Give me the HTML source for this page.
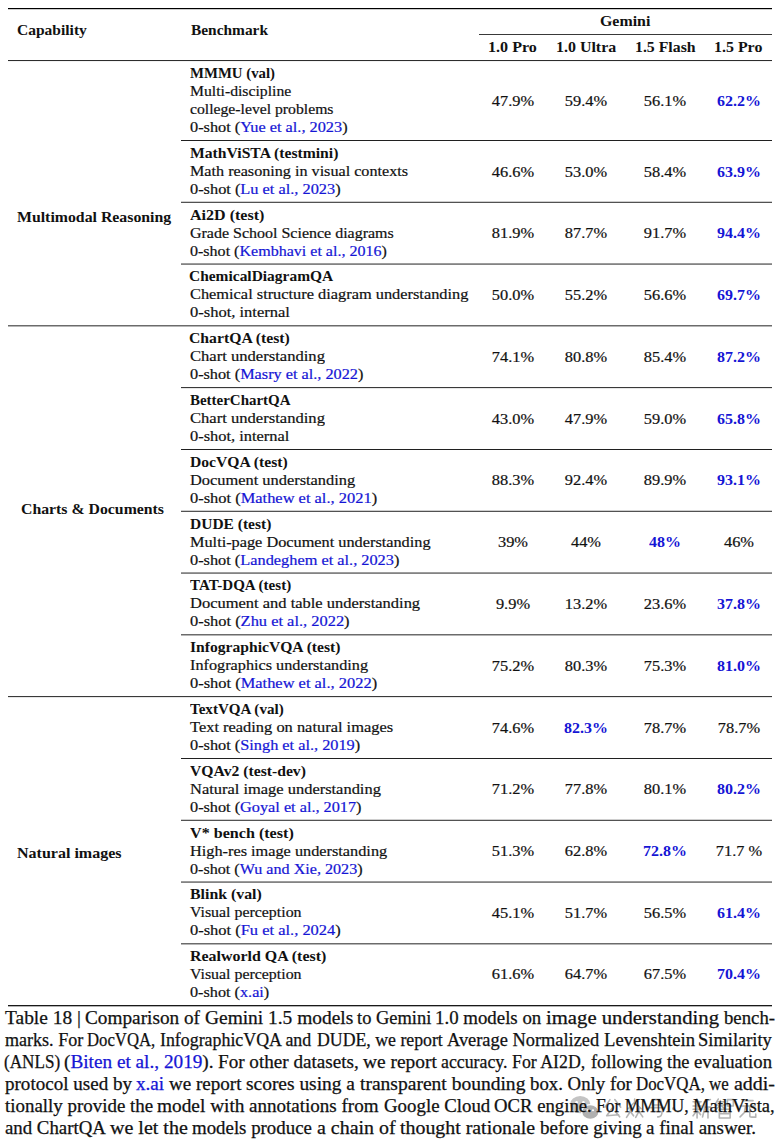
<!DOCTYPE html>
<html><head><meta charset="utf-8"><style>
html,body{margin:0;padding:0;background:#fff;}
body{width:781px;height:1140px;position:relative;overflow:hidden;font-family:"Liberation Serif",serif;color:#111;}
.t{position:absolute;white-space:nowrap;line-height:18.0px;transform-origin:0 0;-webkit-text-stroke:0.2px currentColor;}
.t[style*=bold]{-webkit-text-stroke:0;}
.t.c{width:400px;text-align:center;transform-origin:50% 0;}
.r{position:absolute;height:1px;}
.b{color:#1515d5;}
.cl{-webkit-text-stroke:0.25px currentColor;position:absolute;left:4.3px;transform-origin:0 0;font-size:18.0px;line-height:22px;white-space:nowrap;text-align:justify;text-align-last:justify;}
.cl.last{text-align-last:left;}
.cw{position:absolute;font-size:18.0px;line-height:22px;white-space:nowrap;transform-origin:0 0;-webkit-text-stroke:0.25px currentColor;}
</style></head><body>
<svg style="position:absolute;left:0;top:0" width="781" height="1140" viewBox="0 0 781 1140">
<g>
<ellipse cx="580.2" cy="1104.6" rx="10.2" ry="8.6" fill="#c4c4c4"/>
<circle cx="576.6" cy="1102.2" r="1.3" fill="#fff"/><circle cx="583.4" cy="1102.2" r="1.3" fill="#fff"/>
<ellipse cx="590.3" cy="1112.0" rx="8.6" ry="7.3" fill="#b0b0b0" stroke="#fff" stroke-width="1.2"/>
<circle cx="587.4" cy="1110.3" r="1.0" fill="#fff"/><circle cx="593.0" cy="1110.3" r="1.0" fill="#fff"/>
</g>
<g fill="none" stroke="#b4b4b4" stroke-width="1.5" stroke-linecap="round" stroke-linejoin="round">
<g transform="translate(604,1098.5) scale(1.08)"><path d="M5.5,1 L1,8 M10,1 L15.5,8 M7.5,9 L2.5,16 L13.5,15 M10.5,12 L14.5,17"/></g>
<g transform="translate(626,1098.5) scale(1.08)"><path d="M8,0.5 L8,3.5 L2,9.5 M8,3.5 L14,9.5 M4,9 L4,12 L0.5,17.5 M4,12 L7,16 M12,9 L12,12 L9,17.5 M12,12 L15.5,17"/></g>
<g transform="translate(648,1098.5) scale(1.08)"><path d="M4,1 H12 V6 H4 Z M1,8.5 H15 M5.5,8.5 L4.5,12 H13 Q13,17.5 9,17"/></g>
<g transform="translate(672,1107)"><circle cx="1.5" cy="1.5" r="0.8"/></g>
<g transform="translate(692,1098.5) scale(1.08)"><path d="M4.5,0.5 L5.2,2 M1,3 H8.5 M3,4 L4,6 M7,4 L6,6 M1,7 H8.5 M1,10 H8.5 M4.7,7 V18 M4.7,11 L1,16 M4.7,11 L8,15 M17,1 L11.5,3 L11.5,10 L9.8,17 M11.5,8 H17.5 M14.8,8 V18"/></g>
<g transform="translate(715,1098.5) scale(1.08)"><path d="M3,0.5 L1,4 M2,3 H8 M1,6 H9.5 M5,2 V6 L1,10 M5,6 L9,9.5 M11.5,1 H17 V7 H11.5 Z M4,10 H14 V18 H4 Z M4,14 H14"/></g>
<g transform="translate(739,1098.5) scale(1.08)"><path d="M3,2 H13 M1,7 H15 M6,7 L5,13 L1,17 M10,7 V16 Q10,17.3 12,17.3 H15.5 V14.5"/></g>
</g></svg>
<div class="r" style="left:8px;width:764px;top:8px;background:rgb(0,0,0)"></div>
<div class="r" style="left:8px;width:764px;top:9px;background:rgb(204,204,204)"></div>
<div class="r" style="left:478.6px;width:293.4px;top:34px;background:rgb(57,57,57)"></div>
<div class="r" style="left:8px;width:764px;top:60px;background:rgb(45,45,45)"></div>
<div class="r" style="left:8px;width:764px;top:61px;background:rgb(243,243,243)"></div>
<div id="h_cap" class="t" style="left:17.19px;top:22.27px;font-weight:bold;font-size:14.0px;transform:scaleX(1.1082);">Capability</div>
<div id="h_bench" class="t" style="left:191.10px;top:22.07px;font-weight:bold;font-size:14.0px;transform:scaleX(1.1001);">Benchmark</div>
<div id="h_gem" class="t" style="left:600.15px;top:12.67px;font-weight:bold;font-size:14.0px;transform:scaleX(1.1346);">Gemini</div>
<div id="h_c0" class="t" style="left:487.75px;top:39.07px;font-weight:bold;font-size:14.0px;transform:scaleX(1.1494);">1.0 Pro</div>
<div id="h_c1" class="t" style="left:555.54px;top:39.07px;font-weight:bold;font-size:14.0px;transform:scaleX(1.1387);">1.0 Ultra</div>
<div id="h_c2" class="t" style="left:634.95px;top:39.07px;font-weight:bold;font-size:14.0px;transform:scaleX(1.1286);">1.5 Flash</div>
<div id="h_c3" class="t" style="left:714.18px;top:39.07px;font-weight:bold;font-size:14.0px;transform:scaleX(1.1371);">1.5 Pro</div>
<div id="r0_0" class="t" style="left:190.12px;top:64.75px;font-weight:bold;font-size:14.0px;transform:scaleX(1.0563);">MMMU (val)</div>
<div id="r0_1" class="t" style="left:190.13px;top:82.25px;font-size:14.5px;transform:scaleX(1.0831);">Multi-discipline</div>
<div id="r0_2" class="t" style="left:190.12px;top:100.25px;font-size:14.5px;transform:scaleX(1.0830);">college-level problems</div>
<div id="r0_3" class="t" style="left:190.11px;top:118.25px;font-size:14.5px;transform:scaleX(1.1242);">0-shot (<span class="b">Yue et al., 2023</span>)</div>
<div class="t c" style="left:312.70px;top:92.25px;font-size:14.5px;transform:scaleX(1.1300);">47.9%</div>
<div class="t c" style="left:386.00px;top:92.25px;font-size:14.5px;transform:scaleX(1.1300);">59.4%</div>
<div class="t c" style="left:465.20px;top:92.25px;font-size:14.5px;transform:scaleX(1.1300);">56.1%</div>
<div class="t c" style="left:538.80px;top:92.75px;font-weight:bold;color:#1515d5;font-size:14.0px;transform:scaleX(1.1400);">62.2%</div>
<div class="r" style="left:181.0px;width:591.0px;top:140px;background:rgb(32,32,32)"></div>
<div id="r1_0" class="t" style="left:190.10px;top:144.75px;font-weight:bold;font-size:14.0px;transform:scaleX(1.1189);">MathViSTA (testmini)</div>
<div id="r1_1" class="t" style="left:190.11px;top:162.25px;font-size:14.5px;transform:scaleX(1.1138);">Math reasoning in visual contexts</div>
<div id="r1_2" class="t" style="left:190.11px;top:180.25px;font-size:14.5px;transform:scaleX(1.1264);">0-shot (<span class="b">Lu et al., 2023</span>)</div>
<div class="t c" style="left:312.70px;top:163.25px;font-size:14.5px;transform:scaleX(1.1300);">46.6%</div>
<div class="t c" style="left:386.00px;top:163.25px;font-size:14.5px;transform:scaleX(1.1300);">53.0%</div>
<div class="t c" style="left:465.20px;top:163.25px;font-size:14.5px;transform:scaleX(1.1300);">58.4%</div>
<div class="t c" style="left:538.80px;top:163.75px;font-weight:bold;color:#1515d5;font-size:14.0px;transform:scaleX(1.1400);">63.9%</div>
<div class="r" style="left:181.0px;width:591.0px;top:201px;background:rgb(206,206,206)"></div>
<div class="r" style="left:181.0px;width:591.0px;top:202px;background:rgb(82,82,82)"></div>
<div id="r2_0" class="t" style="left:190.08px;top:206.75px;font-weight:bold;font-size:14.0px;transform:scaleX(1.1465);">Ai2D (test)</div>
<div id="r2_1" class="t" style="left:190.11px;top:224.25px;font-size:14.5px;transform:scaleX(1.1026);">Grade School Science diagrams</div>
<div id="r2_2" class="t" style="left:190.11px;top:242.25px;font-size:14.5px;transform:scaleX(1.1059);">0-shot (<span class="b">Kembhavi et al., 2016</span>)</div>
<div class="t c" style="left:312.70px;top:224.25px;font-size:14.5px;transform:scaleX(1.1300);">81.9%</div>
<div class="t c" style="left:386.00px;top:224.25px;font-size:14.5px;transform:scaleX(1.1300);">87.7%</div>
<div class="t c" style="left:465.20px;top:224.25px;font-size:14.5px;transform:scaleX(1.1300);">91.7%</div>
<div class="t c" style="left:538.80px;top:224.75px;font-weight:bold;color:#1515d5;font-size:14.0px;transform:scaleX(1.1400);">94.4%</div>
<div class="r" style="left:181.0px;width:591.0px;top:263px;background:rgb(156,156,156)"></div>
<div class="r" style="left:181.0px;width:591.0px;top:264px;background:rgb(131,131,131)"></div>
<div id="r3_0" class="t" style="left:189.10px;top:267.75px;font-weight:bold;font-size:14.0px;transform:scaleX(1.1039);">ChemicalDiagramQA</div>
<div id="r3_1" class="t" style="left:190.10px;top:285.25px;font-size:14.5px;transform:scaleX(1.1280);">Chemical structure diagram understanding</div>
<div id="r3_2" class="t" style="left:190.10px;top:303.25px;font-size:14.5px;transform:scaleX(1.1377);">0-shot, internal</div>
<div class="t c" style="left:312.70px;top:286.25px;font-size:14.5px;transform:scaleX(1.1300);">50.0%</div>
<div class="t c" style="left:386.00px;top:286.25px;font-size:14.5px;transform:scaleX(1.1300);">55.2%</div>
<div class="t c" style="left:465.20px;top:286.25px;font-size:14.5px;transform:scaleX(1.1300);">56.6%</div>
<div class="t c" style="left:538.80px;top:286.75px;font-weight:bold;color:#1515d5;font-size:14.0px;transform:scaleX(1.1400);">69.7%</div>
<div class="r" style="left:8px;width:764px;top:325px;background:rgb(107,107,107)"></div>
<div class="r" style="left:8px;width:764px;top:326px;background:rgb(181,181,181)"></div>
<div id="r4_0" class="t" style="left:189.08px;top:329.75px;font-weight:bold;font-size:14.0px;transform:scaleX(1.1225);">ChartQA (test)</div>
<div id="r4_1" class="t" style="left:190.10px;top:347.25px;font-size:14.5px;transform:scaleX(1.1437);">Chart understanding</div>
<div id="r4_2" class="t" style="left:190.11px;top:365.25px;font-size:14.5px;transform:scaleX(1.1211);">0-shot (<span class="b">Masry et al., 2022</span>)</div>
<div class="t c" style="left:312.70px;top:348.25px;font-size:14.5px;transform:scaleX(1.1300);">74.1%</div>
<div class="t c" style="left:386.00px;top:348.25px;font-size:14.5px;transform:scaleX(1.1300);">80.8%</div>
<div class="t c" style="left:465.20px;top:348.25px;font-size:14.5px;transform:scaleX(1.1300);">85.4%</div>
<div class="t c" style="left:538.80px;top:348.75px;font-weight:bold;color:#1515d5;font-size:14.0px;transform:scaleX(1.1400);">87.2%</div>
<div class="r" style="left:181.0px;width:591.0px;top:387px;background:rgb(57,57,57)"></div>
<div class="r" style="left:181.0px;width:591.0px;top:388px;background:rgb(230,230,230)"></div>
<div id="r5_0" class="t" style="left:190.11px;top:391.75px;font-weight:bold;font-size:14.0px;transform:scaleX(1.0680);">BetterChartQA</div>
<div id="r5_1" class="t" style="left:190.10px;top:409.25px;font-size:14.5px;transform:scaleX(1.1437);">Chart understanding</div>
<div id="r5_2" class="t" style="left:190.10px;top:427.25px;font-size:14.5px;transform:scaleX(1.1316);">0-shot, internal</div>
<div class="t c" style="left:312.70px;top:410.25px;font-size:14.5px;transform:scaleX(1.1300);">43.0%</div>
<div class="t c" style="left:386.00px;top:410.25px;font-size:14.5px;transform:scaleX(1.1300);">47.9%</div>
<div class="t c" style="left:465.20px;top:410.25px;font-size:14.5px;transform:scaleX(1.1300);">59.0%</div>
<div class="t c" style="left:538.80px;top:410.75px;font-weight:bold;color:#1515d5;font-size:14.0px;transform:scaleX(1.1400);">65.8%</div>
<div class="r" style="left:181.0px;width:591.0px;top:449px;background:rgb(32,32,32)"></div>
<div id="r6_0" class="t" style="left:190.10px;top:453.75px;font-weight:bold;font-size:14.0px;transform:scaleX(1.1172);">DocVQA (test)</div>
<div id="r6_1" class="t" style="left:190.09px;top:471.25px;font-size:14.5px;transform:scaleX(1.1299);">Document understanding</div>
<div id="r6_2" class="t" style="left:190.11px;top:489.25px;font-size:14.5px;transform:scaleX(1.1331);">0-shot (<span class="b">Mathew et al., 2021</span>)</div>
<div class="t c" style="left:312.70px;top:471.25px;font-size:14.5px;transform:scaleX(1.1300);">88.3%</div>
<div class="t c" style="left:386.00px;top:471.25px;font-size:14.5px;transform:scaleX(1.1300);">92.4%</div>
<div class="t c" style="left:465.20px;top:471.25px;font-size:14.5px;transform:scaleX(1.1300);">89.9%</div>
<div class="t c" style="left:538.80px;top:471.75px;font-weight:bold;color:#1515d5;font-size:14.0px;transform:scaleX(1.1400);">93.1%</div>
<div class="r" style="left:181.0px;width:591.0px;top:510px;background:rgb(206,206,206)"></div>
<div class="r" style="left:181.0px;width:591.0px;top:511px;background:rgb(82,82,82)"></div>
<div id="r7_0" class="t" style="left:190.10px;top:515.75px;font-weight:bold;font-size:14.0px;transform:scaleX(1.1069);">DUDE (test)</div>
<div id="r7_1" class="t" style="left:190.10px;top:533.25px;font-size:14.5px;transform:scaleX(1.1229);">Multi-page Document understanding</div>
<div id="r7_2" class="t" style="left:190.11px;top:551.25px;font-size:14.5px;transform:scaleX(1.1253);">0-shot (<span class="b">Landeghem et al., 2023</span>)</div>
<div class="t c" style="left:312.70px;top:533.25px;font-size:14.5px;transform:scaleX(1.1300);">39%</div>
<div class="t c" style="left:386.00px;top:533.25px;font-size:14.5px;transform:scaleX(1.1300);">44%</div>
<div class="t c" style="left:465.20px;top:533.75px;font-weight:bold;color:#1515d5;font-size:14.0px;transform:scaleX(1.1400);">48%</div>
<div class="t c" style="left:538.80px;top:533.25px;font-size:14.5px;transform:scaleX(1.1300);">46%</div>
<div class="r" style="left:181.0px;width:591.0px;top:572px;background:rgb(156,156,156)"></div>
<div class="r" style="left:181.0px;width:591.0px;top:573px;background:rgb(131,131,131)"></div>
<div id="r8_0" class="t" style="left:190.11px;top:576.75px;font-weight:bold;font-size:14.0px;transform:scaleX(1.0733);">TAT-DQA (test)</div>
<div id="r8_1" class="t" style="left:190.09px;top:594.25px;font-size:14.5px;transform:scaleX(1.1361);">Document and table understanding</div>
<div id="r8_2" class="t" style="left:190.10px;top:612.25px;font-size:14.5px;transform:scaleX(1.1320);">0-shot (<span class="b">Zhu et al., 2022</span>)</div>
<div class="t c" style="left:312.70px;top:595.25px;font-size:14.5px;transform:scaleX(1.1300);">9.9%</div>
<div class="t c" style="left:386.00px;top:595.25px;font-size:14.5px;transform:scaleX(1.1300);">13.2%</div>
<div class="t c" style="left:465.20px;top:595.25px;font-size:14.5px;transform:scaleX(1.1300);">23.6%</div>
<div class="t c" style="left:538.80px;top:595.75px;font-weight:bold;color:#1515d5;font-size:14.0px;transform:scaleX(1.1400);">37.8%</div>
<div class="r" style="left:181.0px;width:591.0px;top:634px;background:rgb(107,107,107)"></div>
<div class="r" style="left:181.0px;width:591.0px;top:635px;background:rgb(181,181,181)"></div>
<div id="r9_0" class="t" style="left:190.09px;top:638.75px;font-weight:bold;font-size:14.0px;transform:scaleX(1.1149);">InfographicVQA (test)</div>
<div id="r9_1" class="t" style="left:190.10px;top:656.25px;font-size:14.5px;transform:scaleX(1.1195);">Infographics understanding</div>
<div id="r9_2" class="t" style="left:190.11px;top:674.25px;font-size:14.5px;transform:scaleX(1.1331);">0-shot (<span class="b">Mathew et al., 2022</span>)</div>
<div class="t c" style="left:312.70px;top:657.25px;font-size:14.5px;transform:scaleX(1.1300);">75.2%</div>
<div class="t c" style="left:386.00px;top:657.25px;font-size:14.5px;transform:scaleX(1.1300);">80.3%</div>
<div class="t c" style="left:465.20px;top:657.25px;font-size:14.5px;transform:scaleX(1.1300);">75.3%</div>
<div class="t c" style="left:538.80px;top:657.75px;font-weight:bold;color:#1515d5;font-size:14.0px;transform:scaleX(1.1400);">81.0%</div>
<div class="r" style="left:8px;width:764px;top:696px;background:rgb(57,57,57)"></div>
<div class="r" style="left:8px;width:764px;top:697px;background:rgb(230,230,230)"></div>
<div id="r10_0" class="t" style="left:190.11px;top:700.75px;font-weight:bold;font-size:14.0px;transform:scaleX(1.0768);">TextVQA (val)</div>
<div id="r10_1" class="t" style="left:190.10px;top:718.25px;font-size:14.5px;transform:scaleX(1.1323);">Text reading on natural images</div>
<div id="r10_2" class="t" style="left:190.10px;top:736.25px;font-size:14.5px;transform:scaleX(1.1238);">0-shot (<span class="b">Singh et al., 2019</span>)</div>
<div class="t c" style="left:312.70px;top:719.25px;font-size:14.5px;transform:scaleX(1.1300);">74.6%</div>
<div class="t c" style="left:386.00px;top:719.75px;font-weight:bold;color:#1515d5;font-size:14.0px;transform:scaleX(1.1400);">82.3%</div>
<div class="t c" style="left:465.20px;top:719.25px;font-size:14.5px;transform:scaleX(1.1300);">78.7%</div>
<div class="t c" style="left:538.80px;top:719.25px;font-size:14.5px;transform:scaleX(1.1300);">78.7%</div>
<div class="r" style="left:181.0px;width:591.0px;top:758px;background:rgb(32,32,32)"></div>
<div id="r11_0" class="t" style="left:190.10px;top:762.75px;font-weight:bold;font-size:14.0px;transform:scaleX(1.1193);">VQAv2 (test-dev)</div>
<div id="r11_1" class="t" style="left:190.08px;top:780.25px;font-size:14.5px;transform:scaleX(1.1341);">Natural image understanding</div>
<div id="r11_2" class="t" style="left:190.11px;top:798.25px;font-size:14.5px;transform:scaleX(1.1207);">0-shot (<span class="b">Goyal et al., 2017</span>)</div>
<div class="t c" style="left:312.70px;top:780.25px;font-size:14.5px;transform:scaleX(1.1300);">71.2%</div>
<div class="t c" style="left:386.00px;top:780.25px;font-size:14.5px;transform:scaleX(1.1300);">77.8%</div>
<div class="t c" style="left:465.20px;top:780.25px;font-size:14.5px;transform:scaleX(1.1300);">80.1%</div>
<div class="t c" style="left:538.80px;top:780.75px;font-weight:bold;color:#1515d5;font-size:14.0px;transform:scaleX(1.1400);">80.2%</div>
<div class="r" style="left:181.0px;width:591.0px;top:819px;background:rgb(206,206,206)"></div>
<div class="r" style="left:181.0px;width:591.0px;top:820px;background:rgb(82,82,82)"></div>
<div id="r12_0" class="t" style="left:190.08px;top:824.75px;font-weight:bold;font-size:14.0px;transform:scaleX(1.1500);">V* bench (test)</div>
<div id="r12_1" class="t" style="left:190.11px;top:842.25px;font-size:14.5px;transform:scaleX(1.1230);">High-res image understanding</div>
<div id="r12_2" class="t" style="left:190.12px;top:860.25px;font-size:14.5px;transform:scaleX(1.1115);">0-shot (<span class="b">Wu and Xie, 2023</span>)</div>
<div class="t c" style="left:312.70px;top:842.25px;font-size:14.5px;transform:scaleX(1.1300);">51.3%</div>
<div class="t c" style="left:386.00px;top:842.25px;font-size:14.5px;transform:scaleX(1.1300);">62.8%</div>
<div class="t c" style="left:465.20px;top:842.75px;font-weight:bold;color:#1515d5;font-size:14.0px;transform:scaleX(1.1400);">72.8%</div>
<div class="t c" style="left:538.80px;top:842.25px;font-size:14.5px;transform:scaleX(1.1300);">71.7 %</div>
<div class="r" style="left:181.0px;width:591.0px;top:881px;background:rgb(156,156,156)"></div>
<div class="r" style="left:181.0px;width:591.0px;top:882px;background:rgb(131,131,131)"></div>
<div id="r13_0" class="t" style="left:190.09px;top:885.75px;font-weight:bold;font-size:14.0px;transform:scaleX(1.1320);">Blink (val)</div>
<div id="r13_1" class="t" style="left:190.12px;top:903.25px;font-size:14.5px;transform:scaleX(1.0955);">Visual perception</div>
<div id="r13_2" class="t" style="left:190.11px;top:921.25px;font-size:14.5px;transform:scaleX(1.1342);">0-shot (<span class="b">Fu et al., 2024</span>)</div>
<div class="t c" style="left:312.70px;top:904.25px;font-size:14.5px;transform:scaleX(1.1300);">45.1%</div>
<div class="t c" style="left:386.00px;top:904.25px;font-size:14.5px;transform:scaleX(1.1300);">51.7%</div>
<div class="t c" style="left:465.20px;top:904.25px;font-size:14.5px;transform:scaleX(1.1300);">56.5%</div>
<div class="t c" style="left:538.80px;top:904.75px;font-weight:bold;color:#1515d5;font-size:14.0px;transform:scaleX(1.1400);">61.4%</div>
<div class="r" style="left:181.0px;width:591.0px;top:943px;background:rgb(107,107,107)"></div>
<div class="r" style="left:181.0px;width:591.0px;top:944px;background:rgb(181,181,181)"></div>
<div id="r14_0" class="t" style="left:190.09px;top:947.75px;font-weight:bold;font-size:14.0px;transform:scaleX(1.1378);">Realworld QA (test)</div>
<div id="r14_1" class="t" style="left:190.12px;top:965.25px;font-size:14.5px;transform:scaleX(1.0955);">Visual perception</div>
<div id="r14_2" class="t" style="left:190.11px;top:983.25px;font-size:14.5px;transform:scaleX(1.1175);">0-shot (<span class="b">x.ai</span>)</div>
<div class="t c" style="left:312.70px;top:965.25px;font-size:14.5px;transform:scaleX(1.1300);">61.6%</div>
<div class="t c" style="left:386.00px;top:965.25px;font-size:14.5px;transform:scaleX(1.1300);">64.7%</div>
<div class="t c" style="left:465.20px;top:965.25px;font-size:14.5px;transform:scaleX(1.1300);">67.5%</div>
<div class="t c" style="left:538.80px;top:965.75px;font-weight:bold;color:#1515d5;font-size:14.0px;transform:scaleX(1.1400);">70.4%</div>
<div class="r" style="left:8px;width:764px;top:1005px;background:rgb(25,25,25)"></div>
<div class="r" style="left:8px;width:764px;top:1006px;background:rgb(179,179,179)"></div>
<div id="g0" class="t" style="left:16.81px;top:209.18px;font-weight:bold;font-size:14.0px;transform:scaleX(1.1294);">Multimodal Reasoning</div>
<div id="g1" class="t" style="left:21.38px;top:501.17px;font-weight:bold;font-size:14.0px;transform:scaleX(1.1279);">Charts &amp; Documents</div>
<div id="g2" class="t" style="left:16.81px;top:844.98px;font-weight:bold;font-size:14.0px;transform:scaleX(1.1441);">Natural images</div>
<div class="cw" style="left:5.00px;top:1006.82px;transform:scaleX(1.0801)">Table 18 |</div>
<div class="cw" style="left:84.90px;top:1006.82px;transform:scaleX(1.0698)">Comparison of</div>
<div class="cw" style="left:204.50px;top:1006.82px;transform:scaleX(1.0780)">Gemini 1.5 models</div>
<div class="cw" style="left:357.30px;top:1006.82px;transform:scaleX(1.0250)">to Gemini</div>
<div class="cw" style="left:435.15px;top:1006.82px;transform:scaleX(1.0468)">1.0 models on</div>
<div class="cw" style="left:546.00px;top:1006.82px;transform:scaleX(1.1498)">image understanding</div>
<div class="cw" style="left:723.60px;top:1006.82px;transform:scaleX(1.0413)">bench-</div>
<div class="cw" style="left:4.60px;top:1028.83px;transform:scaleX(1.0026)">marks. For</div>
<div class="cw" style="left:87.40px;top:1028.83px;transform:scaleX(0.9276)">DocVQA,</div>
<div class="cw" style="left:159.70px;top:1028.83px;transform:scaleX(0.9919)">InfographicVQA and</div>
<div class="cw" style="left:316.50px;top:1028.83px;transform:scaleX(0.9870)">DUDE, we report</div>
<div class="cw" style="left:446.90px;top:1028.83px;transform:scaleX(1.0209)">Average Normalized</div>
<div class="cw" style="left:603.70px;top:1028.83px;transform:scaleX(1.0356)">Levenshtein</div>
<div class="cw" style="left:698.37px;top:1028.83px;transform:scaleX(1.0254)">Similarity</div>
<div class="cw" style="left:3.70px;top:1050.83px;transform:scaleX(0.9509)">(ANLS)</div>
<div class="cw" style="left:64.40px;top:1050.83px;transform:scaleX(1.0684)">(<span class="b">Biten</span> <span class="b">et</span> <span class="b">al.,</span> <span class="b">2019</span>).</div>
<div class="cw" style="left:218.00px;top:1050.83px;transform:scaleX(1.0624)">For other datasets,</div>
<div class="cw" style="left:362.80px;top:1050.83px;transform:scaleX(1.0779)">we report</div>
<div class="cw" style="left:441.20px;top:1050.83px;transform:scaleX(0.9893)">accuracy. For AI2D,</div>
<div class="cw" style="left:590.50px;top:1050.83px;transform:scaleX(1.0208)">following the</div>
<div class="cw" style="left:693.60px;top:1050.83px;transform:scaleX(1.0404)">evaluation</div>
<div class="cw" style="left:4.50px;top:1072.83px;transform:scaleX(1.0585)">protocol used by</div>
<div class="cw" style="left:136.10px;top:1072.83px;transform:scaleX(1.0608)"><span class="b">x.ai</span> we report</div>
<div class="cw" style="left:246.20px;top:1072.83px;transform:scaleX(1.0793)">scores using a</div>
<div class="cw" style="left:359.80px;top:1072.83px;transform:scaleX(1.0848)">transparent bounding</div>
<div class="cw" style="left:529.80px;top:1072.83px;transform:scaleX(1.0442)">box. Only for</div>
<div class="cw" style="left:636.20px;top:1072.83px;transform:scaleX(0.9375)">DocVQA, we</div>
<div class="cw" style="left:733.60px;top:1072.83px;transform:scaleX(1.1084)">addi-</div>
<div class="cw" style="left:4.50px;top:1094.83px;transform:scaleX(1.0512)">tionally provide the</div>
<div class="cw" style="left:157.30px;top:1094.83px;transform:scaleX(1.0737)">model with</div>
<div class="cw" style="left:249.40px;top:1094.83px;transform:scaleX(1.0574)">annotations from</div>
<div class="cw" style="left:383.50px;top:1094.83px;transform:scaleX(1.0473)">Google Cloud</div>
<div class="cw" style="left:494.40px;top:1094.83px;transform:scaleX(1.0397)">OCR engine.</div>
<div class="cw" style="left:596.20px;top:1094.83px;transform:scaleX(0.9744)">For MMMU,</div>
<div class="cw" style="left:692.90px;top:1094.83px;transform:scaleX(1.0278)">MathVista,</div>
<div class="cw" style="left:4.50px;top:1116.83px;transform:scaleX(1.0448)">and ChartQA</div>
<div class="cw" style="left:109.90px;top:1116.83px;transform:scaleX(1.1117)">we let the</div>
<div class="cw" style="left:192.30px;top:1116.83px;transform:scaleX(1.0473)">models produce</div>
<div class="cw" style="left:316.80px;top:1116.83px;transform:scaleX(1.1075)">a chain of</div>
<div class="cw" style="left:400.00px;top:1116.83px;transform:scaleX(1.1039)">thought rationale</div>
<div class="cw" style="left:539.80px;top:1116.83px;transform:scaleX(1.0553)">before giving</div>
<div class="cw" style="left:646.20px;top:1116.83px;transform:scaleX(1.0533)">a final answer.</div>
</body></html>
